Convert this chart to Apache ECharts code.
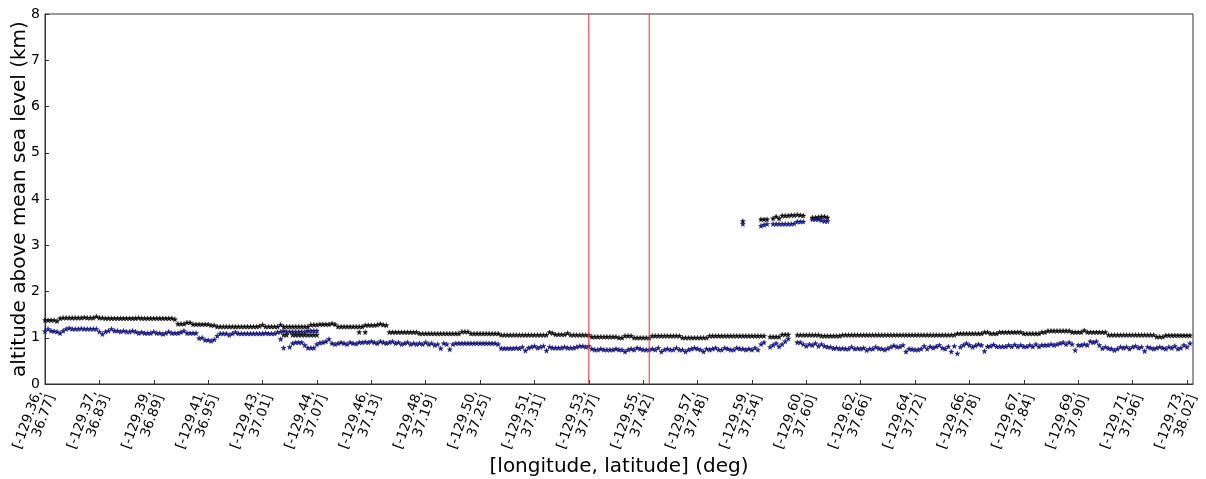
<!DOCTYPE html>
<html>
<head>
<meta charset="utf-8">
<script src="https://cdn.jsdelivr.net/npm/echarts@6/dist/echarts.min.js"></script>
<style>
  html, body { margin: 0; padding: 0; background: #fff; }
  #chart { width: 1206px; height: 479px; }
</style>
</head>
<body>
<div id="chart"></div>
<script>
// Tick labels: [longitude, latitude] every 18 profiles
const lonTicks = ['-129.36','-129.37','-129.39','-129.41','-129.43','-129.44','-129.46','-129.48','-129.50','-129.51','-129.53',
                  '-129.55','-129.57','-129.59','-129.60','-129.62','-129.64','-129.66','-129.67','-129.69','-129.71','-129.73'];
const latTicks = ['36.77','36.83','36.89','36.95','37.01','37.07','37.13','37.19','37.25','37.31','37.37',
                  '37.42','37.48','37.54','37.60','37.66','37.72','37.78','37.84','37.90','37.96','38.02'];

// Main cloud layer top altitude (km), one value per profile
const layerTop = [
  1.38,1.38,1.38,1.38,1.36,1.42,1.43,1.43,1.43,1.43,1.43,1.43,1.43,1.44,1.43,1.43,1.43,1.46,1.43,1.43,
  1.42,1.42,1.42,1.42,1.42,1.42,1.42,1.42,1.42,1.42,1.42,1.43,1.42,1.42,1.42,1.42,1.42,1.42,1.42,1.42,
  1.42,1.42,1.42,1.40,1.30,1.30,1.30,1.33,1.33,1.29,1.29,1.29,1.29,1.29,1.29,1.27,1.27,1.24,1.24,1.24,
  1.24,1.24,1.24,1.24,1.24,1.24,1.24,1.24,1.24,1.24,1.24,1.25,1.28,1.24,1.24,1.24,1.24,1.24,1.28,1.24,
  1.24,1.24,1.24,1.24,1.24,1.24,1.24,1.24,1.28,1.28,1.28,1.29,1.29,1.29,1.29,1.31,1.29,1.24,1.24,1.24,
  1.24,1.24,1.24,1.24,1.24,1.24,1.27,1.27,1.27,1.27,1.28,1.30,1.28,1.27,1.12,1.12,1.12,1.12,1.12,1.12,
  1.12,1.12,1.12,1.12,1.09,1.09,1.09,1.09,1.09,1.09,1.09,1.09,1.09,1.09,1.09,1.09,1.09,1.09,1.13,1.13,
  1.13,1.09,1.09,1.09,1.09,1.09,1.09,1.09,1.09,1.09,1.09,1.06,1.06,1.06,1.06,1.06,1.06,1.06,1.06,1.06,
  1.06,1.06,1.06,1.06,1.06,1.06,1.06,1.12,1.10,1.07,1.07,1.07,1.07,1.10,1.06,1.06,1.06,1.06,1.06,1.06,
  1.06,1.02,1.02,1.02,1.02,1.02,1.02,1.02,1.02,1.02,1.00,1.00,1.04,1.04,1.04,1.00,1.00,1.00,1.00,1.00,
  1.00,1.04,1.04,1.04,1.04,1.04,1.04,1.04,1.04,1.04,1.04,1.00,1.00,1.00,1.00,1.00,1.00,1.00,1.00,1.00,
  1.04,1.04,1.04,1.04,1.04,1.04,1.04,1.04,1.04,1.04,1.04,1.04,1.04,1.04,1.04,1.04,1.04,1.04,1.04,null,
  1.02,1.02,1.02,1.02,1.07,1.07,1.07,null,null,1.06,1.06,1.06,1.06,1.06,1.06,1.06,1.06,1.04,1.04,1.04,
  1.04,1.04,1.04,1.04,1.06,1.06,1.06,1.06,1.06,1.06,1.06,1.06,1.06,1.06,1.06,1.06,1.06,1.06,1.06,1.06,
  1.06,1.06,1.06,1.06,1.06,1.06,1.06,1.06,1.06,1.06,1.06,1.06,1.06,1.06,1.06,1.06,1.06,1.06,1.06,1.06,
  1.06,1.06,1.09,1.09,1.09,1.09,1.09,1.09,1.09,1.09,1.09,1.12,1.12,1.09,1.09,1.09,1.12,1.12,1.12,1.12,
  1.12,1.12,1.12,1.12,1.09,1.09,1.09,1.09,1.09,1.09,1.12,1.12,1.15,1.15,1.15,1.15,1.15,1.15,1.15,1.15,
  1.12,1.12,1.12,1.12,1.16,1.12,1.12,1.12,1.12,1.12,1.12,1.12,1.06,1.06,1.06,1.06,1.06,1.06,1.06,1.06,
  1.06,1.06,1.06,1.06,1.06,1.06,1.06,1.06,1.02,1.02,1.02,1.05,1.05,1.05,1.05,1.05,1.05,1.05,1.05,1.05
];

// Main cloud layer base altitude (km), one value per profile
const layerBase = [
  1.14,1.19,1.15,1.14,1.13,1.10,1.15,1.19,1.21,1.19,1.19,1.19,1.20,1.19,1.19,1.19,1.19,1.19,1.13,1.08,
  1.13,1.15,1.19,1.15,1.15,1.13,1.15,1.13,1.13,1.15,1.13,1.10,1.12,1.10,1.10,1.10,1.13,1.10,1.10,1.08,
  1.10,1.13,1.10,1.10,1.10,1.12,1.15,1.10,1.10,1.10,1.10,0.99,1.00,0.95,0.95,0.93,0.96,1.04,1.09,1.09,
  1.09,1.06,1.09,1.12,1.09,1.09,1.09,1.09,1.09,1.09,1.09,1.09,1.09,1.10,1.09,1.09,1.09,1.12,1.13,1.15,
  1.13,1.13,1.13,1.13,1.13,1.13,1.13,1.15,1.15,1.15,1.15,0.89,0.90,0.92,0.97,0.88,0.86,0.88,0.90,0.88,
  0.86,0.90,0.88,0.87,0.90,0.90,0.91,0.90,0.92,0.90,0.88,0.92,0.90,0.88,0.90,0.92,0.88,0.90,0.86,0.88,
  0.90,0.86,0.88,0.86,0.88,0.86,0.90,0.86,0.88,0.84,0.86,0.77,0.88,0.86,0.75,0.86,0.88,0.88,0.88,0.88,
  0.88,0.88,0.88,0.88,0.88,0.88,0.88,0.88,0.88,0.88,0.86,0.77,0.77,0.77,0.77,0.77,0.78,0.77,0.80,0.72,
  0.78,0.80,0.82,0.78,0.80,0.82,0.72,0.80,0.78,0.78,0.78,0.78,0.80,0.78,0.78,0.78,0.80,0.82,0.82,0.80,
  0.82,0.76,0.74,0.74,0.76,0.74,0.74,0.74,0.74,0.76,0.74,0.74,0.70,0.74,0.76,0.74,0.78,0.76,0.74,0.74,
  0.74,0.76,0.74,0.78,0.70,0.74,0.76,0.74,0.74,0.78,0.74,0.74,0.70,0.74,0.76,0.78,0.76,0.74,0.70,0.76,
  0.74,0.76,0.78,0.74,0.74,0.78,0.76,0.74,0.74,0.78,0.76,0.76,0.74,0.76,0.74,0.78,0.74,0.86,0.90,null,
  0.80,0.84,0.88,0.81,0.86,0.92,0.98,null,null,0.90,0.90,0.86,0.82,0.86,0.84,0.88,0.82,0.86,0.82,0.80,
  0.80,0.77,0.78,0.76,0.77,0.76,0.76,0.80,0.76,0.77,0.76,0.78,0.73,0.76,0.76,0.80,0.77,0.76,0.74,0.77,
  0.80,0.83,0.80,0.81,0.84,0.70,0.76,0.75,0.74,0.74,0.76,0.82,0.76,0.81,0.78,0.81,0.84,0.78,0.76,0.81,
  0.70,0.82,0.66,0.80,0.84,0.88,0.84,0.80,0.83,0.86,0.84,0.71,0.81,0.82,0.85,0.81,0.81,0.81,0.81,0.84,
  0.81,0.85,0.81,0.84,0.81,0.81,0.84,0.81,0.86,0.81,0.84,0.84,0.84,0.86,0.84,0.86,0.88,0.90,0.86,0.90,
  0.86,0.73,0.84,0.84,0.86,0.84,0.92,0.90,0.92,0.84,0.77,0.80,0.77,0.76,0.73,0.76,0.80,0.78,0.80,0.76,
  0.80,0.82,0.78,0.80,0.71,0.80,0.78,0.76,0.78,0.80,0.78,0.76,0.80,0.78,0.82,0.76,0.78,0.84,0.80,0.88
];

// Secondary (lower) layer found beneath the main layer on some profiles
const lowerIdx  = [78, 79, 80, 81, 82, 83, 84, 85, 86, 87, 88, 89, 90, 104, 106];
const lowerTop  = [null,1.06,1.06,null,1.06,1.06,1.06,1.06,1.06,1.06,1.06,1.06,1.06,1.12,1.12];
const lowerBase = [0.97,0.78,null,0.80,0.88,0.90,0.90,0.90,0.84,0.78,0.78,0.78,0.86,null,null];

// Elevated layer near 3.5 km
const highIdx  = [231, 237, 238, 239, 241, 242, 243, 244, 245, 246, 247, 248, 249, 250, 251, 254, 255, 256, 257, 258, 259];
const highTop  = [3.52,3.56,3.56,3.56,3.58,3.62,3.58,3.64,3.64,3.64,3.65,3.65,3.66,3.65,3.64,3.60,3.60,3.61,3.62,3.62,3.60];
const highBase = [3.46,3.42,3.44,3.46,3.46,3.46,3.46,3.46,3.46,3.46,3.46,3.47,3.51,3.51,3.51,3.56,3.56,3.56,3.54,3.52,3.52];

// Profile indices of the two marked positions (vertical red lines)
const markedProfiles = [180, 200];

const TICK_STEP = 18;
const N_PROFILES = layerTop.length;
const Y_MIN = 0, Y_MAX = 8;

const STAR = 'path://M50,0 L61,35 L98,35 L68,57 L79,91 L50,70 L21,91 L32,57 L2,35 L39,35 Z';

function seq(values) {
  const out = [];
  values.forEach((v, i) => { if (v !== null) out.push([i, v]); });
  return out;
}
function indexed(idx, values) {
  const out = [];
  idx.forEach((p, k) => { if (values[k] !== null) out.push([p, values[k]]); });
  return out;
}

const FONT = 'DejaVu Sans';
const chart = echarts.init(document.getElementById('chart'), null, { renderer: 'canvas' });

function stars(data, color, border) {
  return {
    type: 'scatter',
    data: data,
    symbol: STAR,
    symbolSize: 5,
    silent: true,
    itemStyle: { color: color, borderColor: border, borderWidth: 0.4, opacity: 1 },
    z: 3
  };
}

function verticalLine(p) {
  return {
    type: 'line',
    data: [[p, Y_MIN], [p, Y_MAX]],
    showSymbol: false,
    symbol: 'none',
    silent: true,
    lineStyle: { color: '#ff2a2a', width: 1, type: 'solid' },
    itemStyle: { color: '#ff2a2a' },
    z: 4
  };
}

const baseStyle = ['#1a1ab0', '#000040'];
const topStyle = ['#111111', '#000000'];

chart.setOption({
  animation: false,
  backgroundColor: '#ffffff',
  textStyle: { fontFamily: FONT },
  grid: {
    left: 45, right: 13, top: 14, bottom: 95,
    containLabel: false,
    outerBoundsMode: 'none',
    show: true, borderColor: '#333333', borderWidth: 1, backgroundColor: 'transparent'
  },
  xAxis: {
    type: 'value',
    min: 0,
    max: N_PROFILES,
    interval: TICK_STEP,
    name: '[longitude, latitude] (deg)',
    nameLocation: 'middle',
    nameGap: 73,
    nameMoveOverlap: false,
    nameTextStyle: { fontSize: 20, color: '#000', fontFamily: FONT },
    axisLine: { show: true, onZero: false, lineStyle: { color: '#333333', width: 1 } },
    axisTick: { show: true, inside: true, length: 4, lineStyle: { color: '#333333' } },
    splitLine: { show: false },
    axisLabel: {
      show: true,
      rotate: 70,
      margin: 9,
      fontSize: 13.5,
      lineHeight: 14,
      color: '#000',
      fontFamily: FONT,
      showMaxLabel: false,
      formatter: function (v) {
        const k = Math.round(v / TICK_STEP);
        if (k < 0 || k >= lonTicks.length || v % TICK_STEP !== 0) return '';
        return '[' + lonTicks[k] + ',\n' + latTicks[k] + ']';
      }
    }
  },
  yAxis: {
    type: 'value',
    min: Y_MIN,
    max: Y_MAX,
    interval: 1,
    name: 'altitude above mean sea level (km)',
    nameLocation: 'middle',
    nameGap: 15,
    nameMoveOverlap: false,
    nameTextStyle: { fontSize: 20, color: '#000', fontFamily: FONT },
    axisLine: { show: true, lineStyle: { color: '#333333', width: 1 } },
    axisTick: { show: true, inside: true, length: 4, lineStyle: { color: '#333333' } },
    splitLine: { show: false },
    axisLabel: { fontSize: 14, color: '#000', margin: 5, fontFamily: FONT }
  },
  series: [
    stars(seq(layerTop), topStyle[0], topStyle[1]),
    stars(seq(layerBase), baseStyle[0], baseStyle[1]),
    stars(indexed(lowerIdx, lowerTop), topStyle[0], topStyle[1]),
    stars(indexed(lowerIdx, lowerBase), baseStyle[0], baseStyle[1]),
    stars(indexed(highIdx, highTop), topStyle[0], topStyle[1]),
    stars(indexed(highIdx, highBase), baseStyle[0], baseStyle[1])
  ].concat(markedProfiles.map(verticalLine))
});
</script>
</body>
</html>
